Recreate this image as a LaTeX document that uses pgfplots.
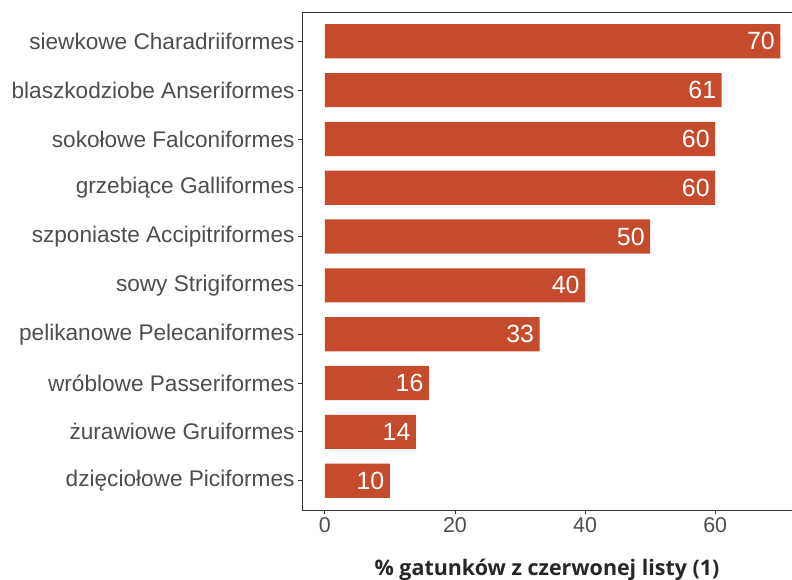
\documentclass[border=0pt]{standalone}
\usepackage{pgfplots}
\pgfplotsset{compat=1.18}
\usepackage{fontspec}
\setmainfont{Liberation Sans}
\newfontfamily\titlefont{Open Sans}
\definecolor{barred}{RGB}{197,75,44}
\definecolor{axisgrey}{RGB}{51,51,51}
\definecolor{labelgrey}{RGB}{77,77,77}

\begin{document}
\begin{tikzpicture}
\begin{axis}[
    scale only axis
  , width = 490bp
  , height = 498bp
  , xbar
  , bar width = 0.7
  , xmin = -3.5, xmax = 71.8
  , ymin = 0.4, ymax = 10.6
  , xtick = {0, 20, 40, 60}
  , ytick = {1,...,10}
  , yticklabels = {dzięciołowe Piciformes, żurawiowe Gruiformes,
      wróblowe Passeriformes, pelikanowe Pelecaniformes, sowy Strigiformes,
      szponiaste Accipitriformes, grzebiące Galliformes,
      sokołowe Falconiformes, blaszkodziobe Anseriformes,
      siewkowe Charadriiformes}
  , axis x line = box
  , axis y line = left
  , xtick pos = bottom
  , axis line style = {-, draw=axisgrey, line width=0.8bp}
  , tick style = {draw=axisgrey, line width=0.8bp}
  , tick align = outside
  , major tick length = 4bp
  , /pgf/number format/assume math mode = true
  , x tick label style = {font=\fontsize{21.5}{25}\selectfont, text=labelgrey}
  , y tick label style = {font=\fontsize{22.7}{26}\selectfont, text=labelgrey}
  , xlabel = {\titlefont\bfseries \% gatunków z czerwonej listy (1)}
  , xlabel style = {
        at = {(axis description cs:0.5,0)}
      , anchor = base
      , yshift = -65bp
      , font = \fontsize{21.5}{25}\selectfont
      , text = black!85
      }
  , nodes near coords
  , every node near coord/.append style = {
        anchor = east
      , xshift = -2bp
      , text = white
      , font = \fontsize{25}{29}\selectfont
      }
  ]
\addplot[fill=barred, draw=none] coordinates {
  (10,1)
  (14,2)
  (16,3)
  (33,4)
  (40,5)
  (50,6)
  (60,7)
  (60,8)
  (61,9)
  (70,10)
};
\end{axis}
\pgfresetboundingbox
\path[use as bounding box]
  ([shift={(-302bp,510bp)}]current axis.south west)
  rectangle ([shift={(490bp,-70bp)}]current axis.south west);
\end{tikzpicture}
\end{document}
